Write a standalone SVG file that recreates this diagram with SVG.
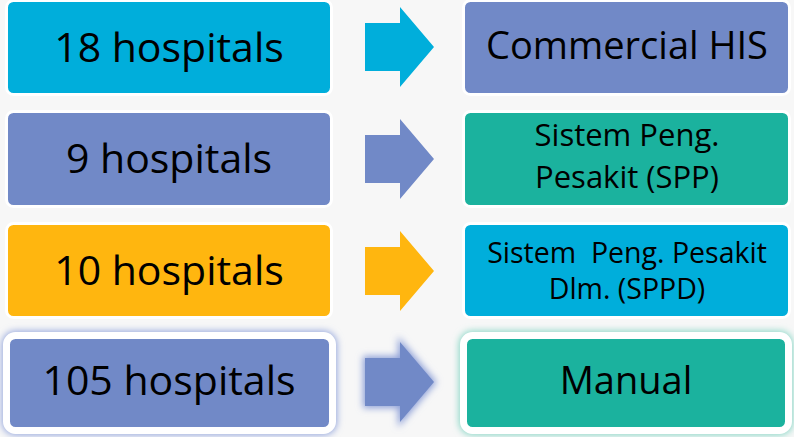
<svg xmlns="http://www.w3.org/2000/svg" width="794" height="437" viewBox="0 0 794 437">
<defs>
<style>
.t{font-family:"Open Sans","Noto Sans",sans-serif;fill:#000;text-anchor:middle}
.big{font-size:41px}
.rb{font-size:38px}
.mid{font-size:31px}
.sm{font-size:28.5px}
.bd{stroke:#fff;stroke-width:3}
.bd4{stroke:#fff;stroke-width:7}
.cyan{fill:#00AEDB}
.blue{fill:#7189C7}
.teal{fill:#1BB29E}
.amber{fill:#FFB60F}
</style>
<filter id="glow" x="-20%" y="-30%" width="140%" height="160%"><feGaussianBlur stdDeviation="3.5"/></filter>
<path id="arr" d="M0,0 H35 V-16 L69,24 L35,64 V48 H0 Z"/>
</defs>
<rect width="794" height="437" fill="#f7f7f7"/>
<g id="n-left-1"><rect x="6.5" y="0.5" width="325" height="94" rx="7" class="cyan bd"/><text x="169" y="62" class="t big">18 hospitals</text></g>
<g id="n-left-2"><rect x="6.5" y="111.5" width="325" height="95" rx="7" class="blue bd"/><text x="169" y="173" class="t big">9 hospitals</text></g>
<g id="n-left-3"><rect x="6.5" y="223.5" width="325" height="94" rx="7" class="amber bd"/><text x="169" y="285" class="t big">10 hospitals</text></g>
<g id="n-left-4"><rect x="6.5" y="335.5" width="326" height="95" rx="9" fill="none" stroke="#93a5dc" stroke-width="9" filter="url(#glow)"/><rect x="6.5" y="335.5" width="326" height="95" rx="9" class="blue bd4"/><text x="169" y="395" class="t big">105 hospitals</text></g>
<g id="n-right-1"><rect x="463.5" y="0.5" width="326" height="94" rx="7" class="blue bd"/><text x="627" y="59" class="t rb">Commercial HIS</text></g>
<g id="n-right-2"><rect x="463.5" y="111.5" width="326" height="95" rx="7" class="teal bd"/><text x="627" y="146" class="t mid">Sistem Peng.</text><text x="627" y="188" class="t mid">Pesakit (SPP)</text></g>
<g id="n-right-3"><rect x="463.5" y="223.5" width="326" height="94" rx="7" class="cyan bd"/><text x="627" y="263" class="t sm" xml:space="preserve">Sistem  Peng. Pesakit</text><text x="627" y="299" class="t sm">Dlm. (SPPD)</text></g>
<g id="n-right-4"><rect x="463.5" y="335.5" width="325" height="95" rx="9" fill="none" stroke="#86d6c5" stroke-width="9" filter="url(#glow)"/><rect x="463.5" y="335.5" width="325" height="95" rx="9" class="teal bd4"/><text x="626" y="394" class="t rb">Manual</text></g>
<g id="connectors">
<use href="#arr" x="365" y="23" class="cyan"/>
<use href="#arr" x="365" y="135" class="blue"/>
<use href="#arr" x="365" y="247" class="amber"/>
<use href="#arr" x="365" y="358" fill="#8ea0d8" stroke="#8ea0d8" stroke-width="4" filter="url(#glow)"/>
<use href="#arr" x="365" y="358" class="blue"/>
</g>
</svg>
